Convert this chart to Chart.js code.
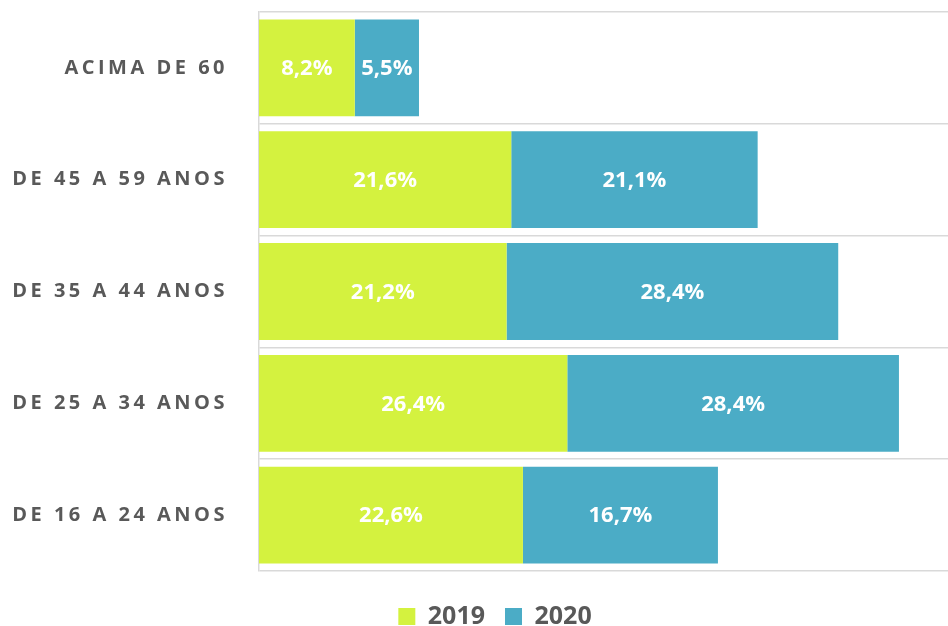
<!DOCTYPE html>
<html>
<head>
<meta charset="utf-8">
<script src="https://cdn.jsdelivr.net/npm/chart.js@4.4.1/dist/chart.umd.min.js"></script>
<style>
  html, body { margin: 0; padding: 0; background: #fff; }
  #wrap { width: 948px; height: 626px; }
</style>
</head>
<body>
<div id="wrap"><canvas id="chart1"></canvas></div>
<script>
// faixas etarias, de cima para baixo
const categories = ['ACIMA DE 60', 'DE 45 A 59 ANOS', 'DE 35 A 44 ANOS', 'DE 25 A 34 ANOS', 'DE 16 A 24 ANOS'];
const values2019 = [8.2, 21.6, 21.2, 26.4, 22.6];
const values2020 = [5.5, 21.1, 28.4, 28.4, 16.7];
const seriesNames = ['2019', '2020'];

const GREEN = '#d4f23f';
const BLUE = '#4bacc6';
const GREY = '#595959';
const FONT = '"Open Sans", sans-serif';

const fmt = v => v.toFixed(1).replace('.', ',') + '%';

// rotulos brancos dentro das barras
const barLabels = {
  id: 'barLabels',
  afterDatasetsDraw(chart) {
    const ctx = chart.ctx;
    ctx.save();
    ctx.font = 'bold 22px ' + FONT;
    ctx.fillStyle = '#fff';
    ctx.textAlign = 'center';
    ctx.textBaseline = 'middle';
    chart.data.datasets.forEach((ds, i) => {
      chart.getDatasetMeta(i).data.forEach((bar, j) => {
        const p = bar.getProps(['x', 'y', 'base'], true);
        ctx.fillText(fmt(ds.data[j]), (p.x + p.base) / 2, p.y + 1);
      });
    });
    ctx.restore();
  }
};

// espacamento entre letras nos rotulos do eixo y + posicao da legenda
const tweaks = {
  id: 'tweaks',
  beforeLayout(chart) {
    const y = chart.scales.y;
    if (!y || y._patched) return;
    const orig = y.drawLabels;
    y.drawLabels = function (area) {
      this.ctx.save();
      this.ctx.letterSpacing = '3.5px';
      orig.call(this, area);
      this.ctx.restore();
    };
    y._patched = true;
  },
  afterLayout(chart) {
    const lg = chart.legend;
    if (lg) {
      lg.top += 13; lg.bottom += 13;
      lg.left += 21; lg.right += 21;
    }
  }
};

new Chart(document.getElementById('chart1').getContext('2d'), {
  type: 'bar',
  data: {
    labels: categories,
    datasets: [
      { label: seriesNames[0], data: values2019, backgroundColor: GREEN },
      { label: seriesNames[1], data: values2020, backgroundColor: BLUE }
    ]
  },
  options: {
    indexAxis: 'y',
    responsive: true,
    maintainAspectRatio: false,
    animation: false,
    events: [],
    layout: { padding: { top: 12, left: 0, right: 0, bottom: 0 } },
    datasets: { bar: { categoryPercentage: 0.866, barPercentage: 1 } },
    scales: {
      x: {
        stacked: true,
        min: 0,
        max: 59,
        display: false
      },
      y: {
        stacked: true,
        afterFit: s => { s.width = 259; s.paddingTop = 0; s.paddingBottom = 0; },
        grid: { offset: true, color: '#d9d9d9', lineWidth: 1.5, drawTicks: false },
        border: { display: true, color: '#d9d9d9', width: 1.5 },
        ticks: {
          padding: 31,
          color: GREY,
          font: { family: FONT, size: 20, weight: 'bold' }
        }
      }
    },
    plugins: {
      legend: {
        position: 'bottom',
        labels: {
          boxWidth: 17,
          boxHeight: 17,
          padding: 20,
          color: GREY,
          font: { family: FONT, size: 25, weight: 'bold' }
        }
      },
      tooltip: { enabled: false }
    }
  },
  plugins: [barLabels, tweaks]
});
</script>
</body>
</html>
